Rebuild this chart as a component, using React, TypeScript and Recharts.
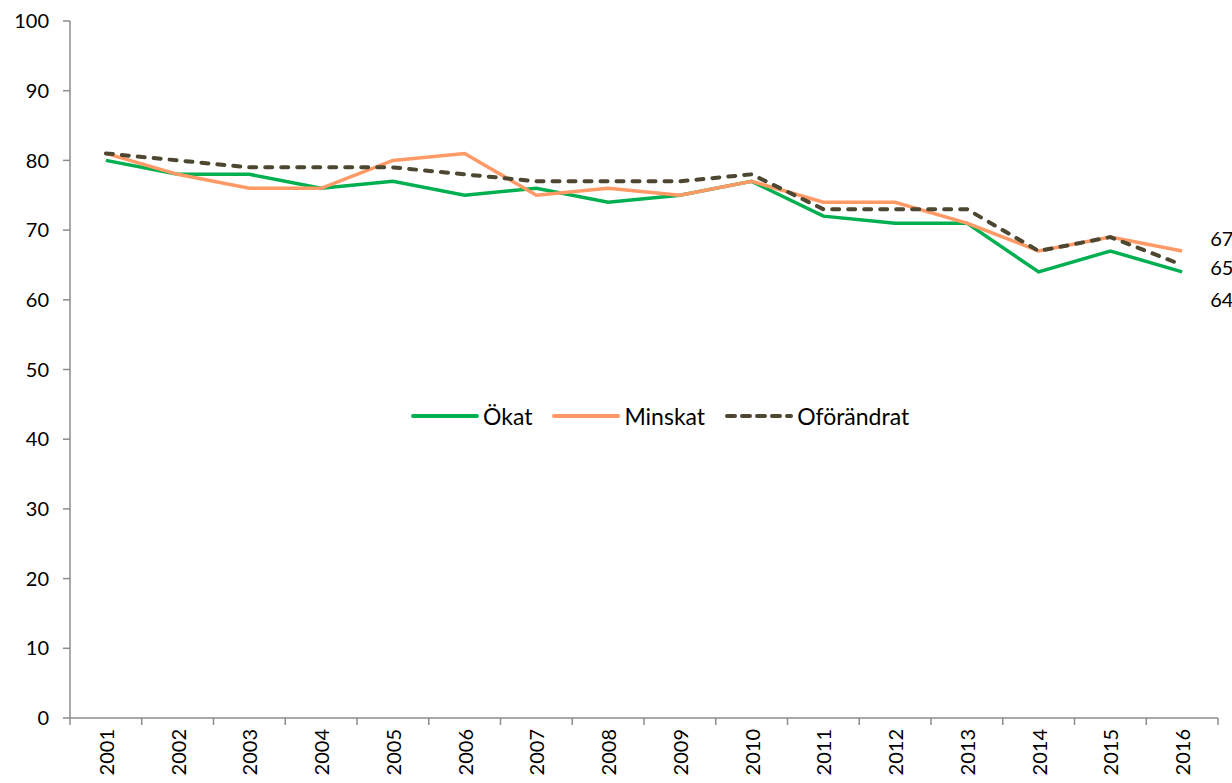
import React from 'react';
import { LineChart, Line, XAxis, YAxis, Legend, LabelList } from 'recharts';

const years = ['2001', '2002', '2003', '2004', '2005', '2006', '2007', '2008', '2009', '2010', '2011', '2012', '2013', '2014', '2015', '2016'];
const okat = [80, 78, 78, 76, 77, 75, 76, 74, 75, 77, 72, 71, 71, 64, 67, 64];
const minskat = [81, 78, 76, 76, 80, 81, 75, 76, 75, 77, 74, 74, 71, 67, 69, 67];
const oforandrat = [81, 80, 79, 79, 79, 78, 77, 77, 77, 78, 73, 73, 73, 67, 69, 65];
const yTicks = [0, 10, 20, 30, 40, 50, 60, 70, 80, 90, 100];

const data = years.map((year, i) => ({
    year,
    okat: okat[i],
    minskat: minskat[i],
    oforandrat: oforandrat[i],
}));

const FONT = 'Lato, "Open Sans", sans-serif';
const AXIS = '#8c8c8c';
const GREEN = '#00B050';
const ORANGE = '#FF9966';
const DARK = '#4D4630';

const WIDTH = 1232;
const HEIGHT = 783;
const MARGIN = { top: 21, right: 14, bottom: 0, left: 0 };
const Y_AXIS_W = 70;
const X_AXIS_H = 65;
const BAND = (WIDTH - MARGIN.right - Y_AXIS_W) / years.length;

const YearTick = (props: any) => {
    const { x, y, payload, index } = props;
    const left = x - BAND / 2;
    return (
        <g>
            <line x1={left} y1={y} x2={left} y2={y + 7} stroke={AXIS} strokeWidth={1.5} />
            {index === years.length - 1 && (
                <line x1={left + BAND} y1={y} x2={left + BAND} y2={y + 7} stroke={AXIS} strokeWidth={1.5} />
            )}
            <text
                transform={`translate(${x},${y + 11}) rotate(-90)`}
                textAnchor="end"
                dominantBaseline="central"
                fontSize={20}
                fontFamily={FONT}
                fill="#000"
            >
                {payload.value}
            </text>
        </g>
    );
};

const endLabel = (dy: number) => (props: any) => {
    const { x, y, index, value } = props;
    if (index !== years.length - 1) return null;
    return (
        <text x={x + 28} y={y + dy} dominantBaseline="central" fontSize={20} fontFamily={FONT} fill="#000">
            {value}
        </text>
    );
};

const legendItems = [
    { label: 'Ökat', color: GREEN, dash: undefined as string | undefined },
    { label: 'Minskat', color: ORANGE, dash: undefined },
    { label: 'Oförändrat', color: DARK, dash: '8 7' },
];

const LegendContent = () => (
    <div style={{ display: 'flex', alignItems: 'center', fontFamily: FONT, fontSize: 23, color: '#000', whiteSpace: 'nowrap' }}>
        {legendItems.map((item) => (
            <div key={item.label} style={{ display: 'flex', alignItems: 'center', marginRight: 20 }}>
                <svg width={68} height={10}>
                    <line
                        x1={2}
                        y1={5}
                        x2={66}
                        y2={5}
                        stroke={item.color}
                        strokeWidth={4}
                        strokeLinecap="round"
                        strokeDasharray={item.dash}
                    />
                </svg>
                <span style={{ marginLeft: 4 }}>{item.label}</span>
            </div>
        ))}
    </div>
);

export default function App() {
    return (
        <div style={{ position: 'absolute', left: 0, top: 0, background: '#fff' }}>
            <LineChart width={WIDTH} height={HEIGHT} data={data} margin={MARGIN}>
                <XAxis
                    dataKey="year"
                    height={X_AXIS_H}
                    padding={{ left: BAND / 2, right: BAND / 2 }}
                    stroke={AXIS}
                    strokeWidth={1.5}
                    tickLine={false}
                    tickSize={0}
                    tickMargin={0}
                    tick={<YearTick />}
                    interval={0}
                />
                <YAxis
                    width={Y_AXIS_W}
                    domain={[0, 100]}
                    ticks={yTicks}
                    stroke={AXIS}
                    strokeWidth={1.5}
                    tickSize={7}
                    tickMargin={14}
                    tick={{ fill: '#000', fontSize: 20, fontFamily: FONT }}
                />
                <Legend
                    verticalAlign="middle"
                    content={<LegendContent />}
                    wrapperStyle={{ top: 402, left: 411, width: 'auto' }}
                />
                <Line
                    dataKey="okat"
                    name="Ökat"
                    stroke={GREEN}
                    strokeWidth={3.5}
                    dot={false}
                    isAnimationActive={false}
                >
                    <LabelList dataKey="okat" content={endLabel(27)} />
                </Line>
                <Line
                    dataKey="minskat"
                    name="Minskat"
                    stroke={ORANGE}
                    strokeWidth={3.5}
                    dot={false}
                    isAnimationActive={false}
                >
                    <LabelList dataKey="minskat" content={endLabel(-13)} />
                </Line>
                <Line
                    dataKey="oforandrat"
                    name="Oförändrat"
                    stroke={DARK}
                    strokeWidth={4}
                    strokeDasharray="7 9"
                    strokeLinecap="round"
                    dot={false}
                    isAnimationActive={false}
                >
                    <LabelList dataKey="oforandrat" content={endLabel(2)} />
                </Line>
            </LineChart>
        </div>
    );
}
